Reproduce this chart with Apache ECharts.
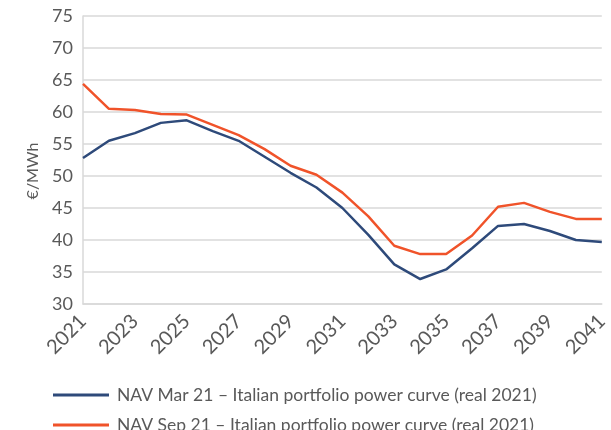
<!DOCTYPE html>
<html>
<head>
<meta charset="utf-8">
<script src="https://cdn.jsdelivr.net/npm/echarts@6/dist/echarts.min.js"></script>
<style>
  html, body { margin: 0; padding: 0; background: #fff; }
  #chart { width: 611px; height: 430px; }
</style>
</head>
<body>
<div id="chart"></div>
<script>
const years = ['2021', '2022', '2023', '2024', '2025', '2026', '2027', '2028', '2029', '2030', '2031',
  '2032', '2033', '2034', '2035', '2036', '2037', '2038', '2039', '2040', '2041'];
const navMar21 = [52.8, 55.5, 56.7, 58.3, 58.7, 57.0, 55.5, 53.0, 50.5, 48.2, 45.0,
  40.8, 36.2, 33.9, 35.4, 38.7, 42.2, 42.5, 41.4, 40.0, 39.7];
const navSep21 = [64.4, 60.5, 60.3, 59.7, 59.6, 58.0, 56.4, 54.2, 51.6, 50.2, 47.4,
  43.7, 39.1, 37.8, 37.8, 40.7, 45.2, 45.8, 44.4, 43.3, 43.3];
const seriesNames = [
  'NAV Mar 21 \u2013 Italian portfolio power curve (real 2021)',
  'NAV Sep 21 \u2013 Italian portfolio power curve (real 2021)'
];

const textColor = '#595959';
const font = 'Lato, "Open Sans", sans-serif';

// one legend per row so each line sits exactly where it should
function legendRow(name, top) {
  return {
    left: 48,
    top: top,
    itemWidth: 56,
    itemHeight: 3,
    itemGap: 0,
    icon: 'rect',
    textStyle: { color: textColor, fontSize: 17.5, fontFamily: font, padding: [0, 0, 0, 3] },
    data: [name]
  };
}

let chartInstance = echarts.init(document.getElementById('chart'));
const option = {
  animation: false,
  textStyle: { fontFamily: font },
  grid: {
    left: 83,
    right: 0,
    top: 16,
    bottom: 126,
    containLabel: false
  },
  legend: [
    legendRow(seriesNames[0], 381),
    legendRow(seriesNames[1], 411)
  ],
  xAxis: {
    type: 'category',
    boundaryGap: false,
    data: years,
    axisLine: { lineStyle: { color: '#d9d9d9', width: 1.5 } },
    axisTick: { show: false },
    axisLabel: {
      interval: 1,
      rotate: 45,
      color: textColor,
      fontSize: 20,
      margin: 14,
      fontFamily: font
    }
  },
  yAxis: {
    type: 'value',
    min: 30,
    max: 75,
    interval: 5,
    name: '\u20ac/MWh',
    nameLocation: 'middle',
    nameGap: 41,
    nameTextStyle: { color: textColor, fontSize: 16, fontFamily: font, padding: [0, 22, 0, 0] },
    axisLine: { show: true, lineStyle: { color: '#d9d9d9', width: 1.5 } },
    axisTick: { show: false },
    axisLabel: { color: textColor, fontSize: 18, margin: 10, fontFamily: font },
    splitLine: { lineStyle: { color: '#d9d9d9', width: 1.5 } }
  },
  series: [
    {
      name: seriesNames[0],
      type: 'line',
      data: navMar21,
      symbol: 'none',
      itemStyle: { color: '#2e4a7a' },
      lineStyle: { color: '#2e4a7a', width: 2.5 }
    },
    {
      name: seriesNames[1],
      type: 'line',
      data: navSep21,
      symbol: 'none',
      itemStyle: { color: '#f0532a' },
      lineStyle: { color: '#f0532a', width: 2.5 }
    }
  ]
};
chartInstance.setOption(option);
</script>
</body>
</html>
